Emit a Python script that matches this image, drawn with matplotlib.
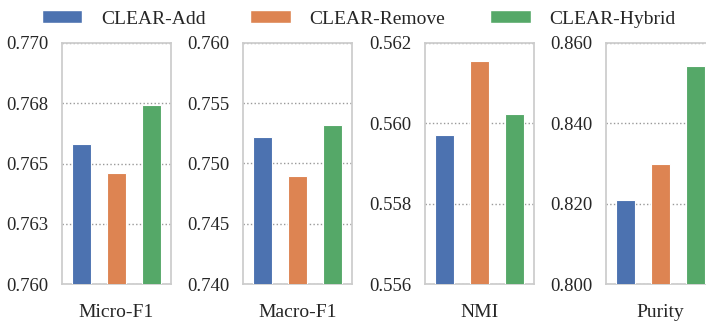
import matplotlib
matplotlib.use("Agg")
import matplotlib.pyplot as plt
import numpy as np
from matplotlib.patches import Patch

plt.rcParams["font.family"] = ["Liberation Serif", "DejaVu Serif"]
plt.rcParams["font.size"] = 13.5

methods = ["CLEAR-Add", "CLEAR-Remove", "CLEAR-Hybrid"]
colors = ["#4C72B0", "#DD8452", "#55A868"]

metrics = ["Micro-F1", "Macro-F1", "NMI", "Purity"]
micro_f1 = [0.7658, 0.7646, 0.76742]
macro_f1 = [0.7522, 0.7490, 0.7532]
nmi = [0.5597, 0.56154, 0.56022]
purity = [0.8209, 0.8298, 0.8542]
values = [micro_f1, macro_f1, nmi, purity]

ylims = [(0.760, 0.770), (0.740, 0.760), (0.556, 0.562), (0.800, 0.860)]
yticks = [
    [0.760, 0.7625, 0.765, 0.7675, 0.770],
    [0.740, 0.745, 0.750, 0.755, 0.760],
    [0.556, 0.558, 0.560, 0.562],
    [0.800, 0.820, 0.840, 0.860],
]
ytick_labels = [
    ["0.760", "0.763", "0.765", "0.768", "0.770"],
    ["0.740", "0.745", "0.750", "0.755", "0.760"],
    ["0.556", "0.558", "0.560", "0.562"],
    ["0.800", "0.820", "0.840", "0.860"],
]

W, H = 706, 331
fig = plt.figure(figsize=(W / 100, H / 100), dpi=100)

lefts = [62, 243.3, 425, 606]
ax_w = 108.7
ax_top, ax_bot = 42.7, 284.3

x = np.arange(3)
for i in range(4):
    ax = fig.add_axes([lefts[i] / W, (H - ax_bot) / H, ax_w / W, (ax_bot - ax_top) / H])
    ax.bar(x, values[i], width=0.54, color=colors, edgecolor="white",
           linewidth=0.8, zorder=3)
    ax.set_xlim(-0.55, 2.55)
    ax.set_ylim(*ylims[i])
    ax.set_yticks(yticks[i])
    ax.set_yticklabels(ytick_labels[i], color="#262626")
    ax.set_xticks([])
    ax.set_xlabel(metrics[i], labelpad=14, color="#262626", fontsize=14)
    ax.tick_params(axis="y", length=0, pad=10)
    ax.grid(axis="y", linestyle=":", color="#999999", linewidth=1.0, zorder=0)
    ax.set_axisbelow(True)
    for s in ax.spines.values():
        s.set_color("#cccccc")
        s.set_linewidth(1.25)

handles = [Patch(facecolor=c, edgecolor="white") for c in colors]
fig.legend(handles, methods, loc="center", bbox_to_anchor=(0.508, 1 - 19 / H),
           ncol=3, frameon=False, fontsize=14, handlelength=2.1,
           handleheight=0.62, handletextpad=0.95, columnspacing=2.3,
           labelcolor="#262626")

fig.savefig("out.png", dpi=100)
